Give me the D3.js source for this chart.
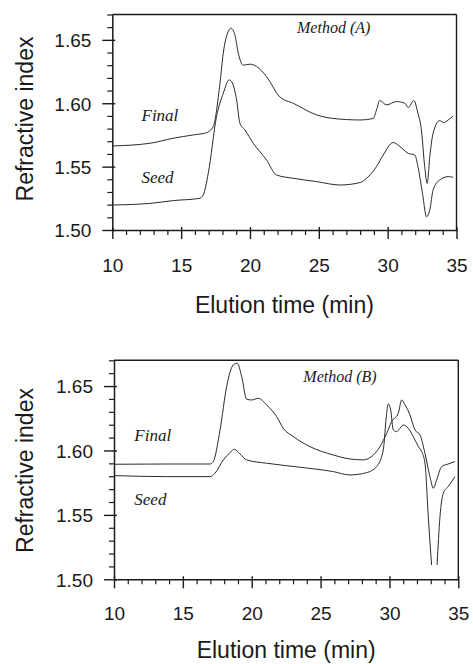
<!DOCTYPE html>
<html>
<head>
<meta charset="utf-8">
<script src="https://cdn.jsdelivr.net/npm/d3@7"></script>
<style>
  html, body { margin: 0; padding: 0; background: #fff; }
  svg { display: block; }
</style>
</head>
<body>
<svg id="chart" width="473" height="664"></svg>
<script>
// ---------- DATA ----------
const xTickValues = [10, 15, 20, 25, 30, 35];
const yTickValues = [1.50, 1.55, 1.60, 1.65];
const yTickLabels = ["1.50", "1.55", "1.60", "1.65"];
const xAxisTitle = "Elution time (min)";
const yAxisTitle = "Refractive index";
const seriesNames = ["Final", "Seed"];
const panelTitles = ["Method (A)", "Method (B)"];

// Method (A) - Final: [time, refractive index]
const finalA = [
  [10, 1.5663], [12.73, 1.5684], [14.43, 1.5724], [15.88, 1.575], [16.85, 1.5768],
  [17.33, 1.5816], [17.82, 1.6158], [18.06, 1.6395], [18.42, 1.6566], [18.62, 1.6592],
  [18.9, 1.654], [19.15, 1.6395], [19.51, 1.630], [20.0, 1.6308], [20.48, 1.629],
  [21.2, 1.621], [22.17, 1.605], [23.14, 1.600], [24.84, 1.5908], [26.05, 1.588],
  [27.98, 1.5868], [28.95, 1.588], [29.19, 1.5947], [29.43, 1.6021], [29.92, 1.5987],
  [30.64, 1.6013], [31.25, 1.600], [31.49, 1.5966], [31.9, 1.6021], [32.2, 1.5921],
  [32.45, 1.579], [32.69, 1.55], [32.87, 1.5368], [33.06, 1.5579], [33.3, 1.5763],
  [33.78, 1.5863], [34.07, 1.5847], [34.4, 1.5868], [34.76, 1.59]
];
// Method (A) - Seed
const seedA = [
  [10, 1.5197], [12.73, 1.521], [14.43, 1.5232], [16.36, 1.525], [16.6, 1.5276],
  [16.97, 1.5447], [17.57, 1.5895], [18.06, 1.6079], [18.49, 1.6184], [18.66, 1.6171],
  [19.03, 1.6026], [19.27, 1.5842], [19.63, 1.579], [20.24, 1.5684], [21.2, 1.5553],
  [21.93, 1.5434], [23.14, 1.5408], [24.84, 1.5382], [26.53, 1.5355], [27.98, 1.5374],
  [28.47, 1.5408], [29.19, 1.55], [29.68, 1.5592], [30.4, 1.569], [30.89, 1.5658],
  [31.49, 1.5605], [31.97, 1.5592], [32.2, 1.55], [32.53, 1.5289], [32.82, 1.5105],
  [33.06, 1.5158], [33.3, 1.5316], [33.78, 1.5395], [34.4, 1.5421], [34.76, 1.5416]
];
// Method (B) - Final
const finalB = [
  [10, 1.5893], [13.82, 1.5895], [16.97, 1.5895], [17.21, 1.5914], [17.7, 1.616],
  [18.18, 1.6496], [18.66, 1.6664], [18.95, 1.6677], [19.27, 1.6574], [19.63, 1.6398],
  [20.0, 1.6392], [20.48, 1.6405], [21.08, 1.6354], [21.81, 1.6263], [22.29, 1.6172],
  [23.02, 1.6108], [24.23, 1.603], [25.92, 1.5965], [27.13, 1.5934], [28.1, 1.5927],
  [28.83, 1.5965], [29.31, 1.603], [29.8, 1.6133], [30.16, 1.6224], [30.64, 1.6289],
  [30.89, 1.6392], [31.13, 1.6354], [31.49, 1.6276], [31.85, 1.616], [32.22, 1.6121],
  [32.58, 1.5978], [32.94, 1.5797], [33.19, 1.5707], [33.43, 1.5771], [33.79, 1.5875],
  [34.27, 1.5895], [34.76, 1.5914]
];
// Method (B) - Seed (null = trace runs off the plotted range)
const seedB = [
  [10, 1.5805], [13.82, 1.5797], [16.97, 1.5797], [17.33, 1.5823], [17.94, 1.5927],
  [18.42, 1.5983], [18.74, 1.6009], [19.15, 1.5973], [19.63, 1.5927], [21.08, 1.5901],
  [23.5, 1.587], [25.92, 1.5836], [27.13, 1.581], [28.34, 1.5828], [29.07, 1.5875],
  [29.55, 1.6004], [29.8, 1.6289], [29.92, 1.6361], [30.09, 1.6315], [30.28, 1.616],
  [30.52, 1.6146], [30.76, 1.6172], [31.0, 1.6198], [31.37, 1.6172], [31.73, 1.6108],
  [32.1, 1.603], [32.34, 1.5991], [32.58, 1.5901], [32.82, 1.5487], [33.06, 1.5111],
  [33.25, null],
  [33.46, 1.5111], [33.67, 1.5487], [33.91, 1.5668], [34.27, 1.572], [34.76, 1.5797]
];

// ---------- LAYOUT ----------
const panels = [
  { left: 112.3, right: 456.5, top: 14.5, bottom: 230, data: [finalA, seedA], title: panelTitles[0],
    titlePos: [297, 33], labelPos: [[141.5, 120.5], [141.5, 183.3]],
    xLabY: 271.5, xTitleY: 313.3, yTitleX: 33, yTitleY: 119 },
  { left: 114, right: 458.3, top: 360.3, bottom: 579.3, data: [finalB, seedB], title: panelTitles[1],
    titlePos: [303.3, 381.5], labelPos: [[134.3, 440.7], [134.3, 505]],
    xLabY: 620, xTitleY: 658, yTitleX: 32.5, yTitleY: 470.5 }
];

const svg = d3.select("#chart");
const ink = "#1a1a1a";
const sansFont = "'Liberation Sans', Arial, sans-serif";
const serifFont = "'Liberation Serif', 'Times New Roman', serif";

panels.forEach((p, i) => {
  const x = d3.scaleLinear().domain([10, 35]).range([p.left, p.right]);
  const y = d3.scaleLinear().domain([1.50, 1.67]).range([p.bottom, p.top]);
  const g = svg.append("g");

  // frame (top + right)
  g.append("line").attr("x1", p.left).attr("x2", p.right).attr("y1", p.top).attr("y2", p.top)
    .attr("stroke", ink).attr("stroke-width", 1.4);
  g.append("line").attr("x1", p.right).attr("x2", p.right).attr("y1", p.top).attr("y2", p.bottom)
    .attr("stroke", ink).attr("stroke-width", 1.4);

  // x axis: minor ticks
  const xMinor = d3.range(10, 35.01, 1).filter(v => v % 5 !== 0);
  g.append("g").attr("transform", `translate(0,${p.bottom})`)
    .call(d3.axisBottom(x).tickValues(xMinor).tickSize(5).tickFormat(""))
    .call(a => a.select(".domain").remove())
    .selectAll("line").attr("stroke", ink).attr("stroke-width", 1.2);
  // x axis: major ticks + labels
  const xa = g.append("g").attr("transform", `translate(0,${p.bottom})`)
    .call(d3.axisBottom(x).tickValues(xTickValues).tickSizeInner(9).tickSizeOuter(0).tickPadding(0).tickFormat(d3.format("d")));
  xa.select(".domain").attr("stroke", ink).attr("stroke-width", 1.5);
  xa.selectAll(".tick line").attr("y1", -3).attr("stroke", ink).attr("stroke-width", 1.4);
  xa.selectAll(".tick text").attr("y", p.xLabY - p.bottom).attr("dy", 0)
    .attr("font-family", sansFont).attr("font-size", 19).attr("fill", ink);

  // y axis: minor ticks
  const yMinor = d3.range(1.50, 1.6701, 0.01).map(v => +v.toFixed(2)).filter(v => !yTickValues.includes(v));
  g.append("g").attr("transform", `translate(${p.left},0)`)
    .call(d3.axisLeft(y).tickValues(yMinor).tickSize(5).tickFormat(""))
    .call(a => a.select(".domain").remove())
    .selectAll("line").attr("stroke", ink).attr("stroke-width", 1.2);
  // y axis: major ticks + labels
  const ya = g.append("g").attr("transform", `translate(${p.left},0)`)
    .call(d3.axisLeft(y).tickValues(yTickValues).tickSizeInner(10).tickSizeOuter(0).tickPadding(11)
      .tickFormat((d, k) => yTickLabels[k]));
  ya.select(".domain").attr("stroke", ink).attr("stroke-width", 1.5);
  ya.selectAll(".tick line").attr("x2", -10).attr("x1", 3).attr("stroke", ink).attr("stroke-width", 1.4);
  ya.selectAll(".tick text").attr("font-family", sansFont).attr("font-size", 19).attr("fill", ink)
    .attr("dy", "0.36em");

  // axis titles
  g.append("text").attr("x", (p.left + p.right) / 2 - 0).attr("y", p.xTitleY)
    .attr("text-anchor", "middle").attr("font-family", sansFont).attr("font-size", 23).attr("fill", ink)
    .text(xAxisTitle);
  g.append("text").attr("transform", `translate(${p.yTitleX},${p.yTitleY}) rotate(-90)`)
    .attr("text-anchor", "middle").attr("font-family", sansFont).attr("font-size", 23).attr("fill", ink)
    .text(yAxisTitle);

  // curves
  const clipId = "clip" + i;
  svg.append("clipPath").attr("id", clipId).append("rect")
    .attr("x", p.left).attr("y", p.top).attr("width", p.right - p.left).attr("height", p.bottom - p.top);
  const line = d3.line()
    .defined(d => d[1] !== null)
    .x(d => x(d[0])).y(d => y(d[1]))
    .curve(d3.curveMonotoneX);
  p.data.forEach(series => {
    g.append("path").datum(series).attr("d", line)
      .attr("fill", "none").attr("stroke", "#2a2a2a").attr("stroke-width", 1)
      .attr("clip-path", `url(#${clipId})`);
  });

  // annotations
  g.append("text").attr("x", p.titlePos[0]).attr("y", p.titlePos[1])
    .attr("font-family", serifFont).attr("font-style", "italic").attr("font-size", 16).attr("fill", ink)
    .text(p.title);
  seriesNames.forEach((name, k) => {
    g.append("text").attr("x", p.labelPos[k][0]).attr("y", p.labelPos[k][1])
      .attr("font-family", serifFont).attr("font-style", "italic").attr("font-size", 17).attr("fill", ink)
      .text(name);
  });
});
</script>
</body>
</html>
